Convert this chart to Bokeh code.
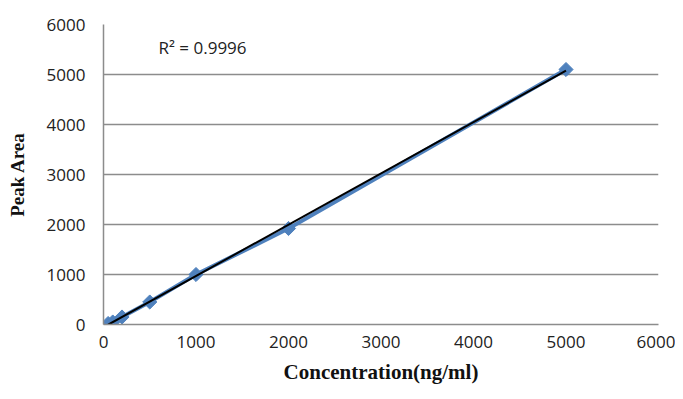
import numpy as np
from bokeh.plotting import figure
from bokeh.models import Range1d, FixedTicker, Label
from bokeh.embed import file_html
from bokeh.resources import INLINE

concentration = [50, 100, 200, 500, 1000, 2000, 5000]
peak_area = [20, 50, 150, 450, 1000, 1920, 5100]
x_ticks = [0, 1000, 2000, 3000, 4000, 5000, 6000]
y_ticks = [0, 1000, 2000, 3000, 4000, 5000, 6000]
r2_text = "R² = 0.9996"

p = figure(width=675, height=391, output_backend="svg", toolbar_location=None,
           x_range=Range1d(0, 6000), y_range=Range1d(0, 6000),
           min_border_left=103, min_border_right=17, min_border_top=24, min_border_bottom=67)
p.outline_line_color = None
p.background_fill_color = "white"

grid_color = "#8c8c8c"
p.xgrid.grid_line_color = None
p.ygrid.grid_line_color = grid_color
p.ygrid.grid_line_width = 1.5
p.ygrid.ticker = FixedTicker(ticks=y_ticks)

for ax in (p.xaxis[0], p.yaxis[0]):
    ax.major_tick_in = 0
    ax.major_tick_out = 0
    ax.minor_tick_in = 0
    ax.minor_tick_out = 0
    ax.axis_line_color = grid_color
    ax.axis_line_width = 1.5
    ax.major_label_text_font = "Open Sans"
    ax.major_label_text_font_size = "17px"
    ax.major_label_text_color = "#222222"
    ax.axis_label_text_font = "Liberation Serif"
    ax.axis_label_text_font_style = "bold"
    ax.axis_label_text_color = "#111111"

p.xaxis.axis_label_text_font_size = "21px"
p.yaxis.axis_label_text_font_size = "19px"
p.xaxis.ticker = FixedTicker(ticks=x_ticks)
p.yaxis.ticker = FixedTicker(ticks=y_ticks)
p.xaxis.major_label_standoff = 11
p.yaxis.major_label_standoff = 18
p.xaxis.axis_label = "Concentration(ng/ml)"
p.yaxis.axis_label = "Peak Area"
p.xaxis.axis_label_standoff = 9
p.yaxis.axis_label_standoff = 16

blue = "#4f81bd"
p.line(concentration, peak_area, line_color=blue, line_width=4)
p.scatter(concentration, peak_area, marker="square", angle=np.pi / 4, size=10,
          fill_color=blue, line_color=blue)

# linear trendline (least squares fit of the data)
slope, intercept = np.polyfit(concentration, peak_area, 1)
tx = [min(concentration), max(concentration)]
ty = [slope * v + intercept for v in tx]
p.line(tx, ty, line_color="black", line_width=2)

p.add_layout(Label(x=595, y=5540, text=r2_text, text_font="Open Sans", text_font_size="17px",
                   text_baseline="middle", text_align="left", text_color="#222222"))

open("out.html", "w").write(file_html(p, INLINE))
